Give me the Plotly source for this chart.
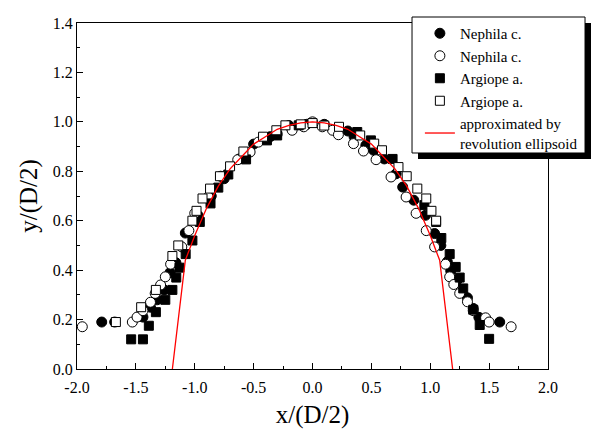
import plotly.graph_objects as go

# Nephila c. (filled circles)
nc_fill_x = [-1.79, -1.68, -1.44, -1.376, -1.32, -1.26, -1.21, -1.16, -1.08, -0.97, -0.86, -0.75, -0.62,
             -0.50, -0.36, -0.20, -0.05, 0.10, 0.30, 0.353, 0.453, 0.519, 0.61, 0.71, 0.766, 0.86, 0.96,
             1.037, 1.09, 1.145, 1.174, 1.23, 1.316, 1.365, 1.413, 1.59]
nc_fill_y = [0.19, 0.19, 0.21, 0.25, 0.28, 0.32, 0.39, 0.43, 0.55, 0.62, 0.70, 0.77, 0.85,
             0.91, 0.94, 0.985, 0.99, 0.99, 0.963, 0.94, 0.905, 0.885, 0.85, 0.79, 0.736, 0.683, 0.622,
             0.548, 0.50, 0.434, 0.397, 0.36, 0.288, 0.245, 0.209, 0.19]

# Nephila c. (open circles)
nc_open_x = [-1.955, -1.53, -1.49, -1.44, -1.376, -1.336, -1.29, -1.25, -1.205, -1.11, -1.05, -1.0,
             -0.886, -0.78, -0.635, -0.53, -0.46, -0.30, -0.173, -0.074, 0.0, 0.083, 0.17, 0.22, 0.348,
             0.433, 0.54, 0.667, 0.795, 0.88, 0.966, 1.037, 1.13, 1.165, 1.2, 1.25, 1.316, 1.365,
             1.47, 1.5, 1.687]
nc_open_y = [0.171, 0.19, 0.21, 0.236, 0.27, 0.306, 0.34, 0.373, 0.424, 0.494, 0.56, 0.63,
             0.696, 0.78, 0.847, 0.878, 0.918, 0.95, 0.966, 0.98, 1.0, 0.98, 0.966, 0.948, 0.912,
             0.882, 0.847, 0.777, 0.696, 0.63, 0.56, 0.494, 0.424, 0.373, 0.342, 0.306, 0.272, 0.236,
             0.207, 0.19, 0.171]

# Argiope a. (filled squares)
aa_fill_x = [-1.54, -1.44, -1.39, -1.33, -1.25, -1.19, -1.157, -1.13, -1.077, -1.02, -0.957, -0.866,
             -0.80, -0.715, -0.564, -0.387, -0.30, -0.117, 0.38, 0.496, 0.68, 0.95, 1.05, 1.094,
             1.165, 1.216, 1.25, 1.28, 1.365, 1.42, 1.5]
aa_fill_y = [0.12, 0.12, 0.175, 0.23, 0.28, 0.32, 0.37, 0.41, 0.465, 0.52, 0.595, 0.67,
             0.734, 0.787, 0.848, 0.925, 0.945, 0.986, 0.959, 0.925, 0.85, 0.663, 0.595, 0.53,
             0.465, 0.413, 0.37, 0.326, 0.24, 0.178, 0.122]

# Argiope a. (open squares)
aa_open_x = [-1.67, -1.455, -1.33, -1.19, -1.14, -1.02, -0.985, -0.934, -0.87, -0.786, -0.70, -0.587,
             -0.42, -0.307, -0.23, -0.10, 0.0, 0.10, 0.225, 0.405, 0.524, 0.59, 0.73, 0.80, 0.89,
             0.966, 1.01, 1.05]
aa_open_y = [0.19, 0.25, 0.32, 0.457, 0.50, 0.60, 0.64, 0.69, 0.73, 0.78, 0.82, 0.88,
             0.94, 0.966, 0.986, 0.99, 0.995, 0.985, 0.98, 0.945, 0.912, 0.885, 0.817, 0.78, 0.73,
             0.69, 0.64, 0.60]

# approximated by revolution ellipsoid
ell_x = [-1.19, -1.08, -1.0, -0.9, -0.8, -0.7, -0.6, -0.5, -0.4, -0.3, -0.2, -0.1, 0.0,
         0.1, 0.2, 0.3, 0.4, 0.5, 0.6, 0.7, 0.8, 0.9, 1.0, 1.08, 1.19]
ell_y = [0.0, 0.44, 0.54, 0.65, 0.74, 0.81, 0.86, 0.91, 0.94, 0.97, 0.986, 0.996, 1.0,
         0.996, 0.986, 0.97, 0.94, 0.91, 0.86, 0.81, 0.74, 0.65, 0.54, 0.44, 0.0]

x_ticks = [-2.0, -1.5, -1.0, -0.5, 0.0, 0.5, 1.0, 1.5, 2.0]
y_ticks = [0.0, 0.2, 0.4, 0.6, 0.8, 1.0, 1.2, 1.4]

FONT = "Liberation Serif"
msz = 9

fig = go.Figure()
fig.add_trace(go.Scatter(x=nc_fill_x, y=nc_fill_y, mode="markers", name="Nephila c.",
                         marker=dict(symbol="circle", size=msz + 1, color="black",
                                     line=dict(color="black", width=1))))
fig.add_trace(go.Scatter(x=nc_open_x, y=nc_open_y, mode="markers", name="Nephila c.",
                         marker=dict(symbol="circle", size=msz + 1, color="white",
                                     line=dict(color="black", width=1))))
fig.add_trace(go.Scatter(x=aa_fill_x, y=aa_fill_y, mode="markers", name="Argiope a.",
                         marker=dict(symbol="square", size=msz, color="black",
                                     line=dict(color="black", width=1))))
fig.add_trace(go.Scatter(x=aa_open_x, y=aa_open_y, mode="markers", name="Argiope a.",
                         marker=dict(symbol="square", size=msz, color="white",
                                     line=dict(color="black", width=1))))
fig.add_trace(go.Scatter(x=ell_x, y=ell_y, mode="lines",
                         name="approximated by<br>revolution ellipsoid",
                         line=dict(color="red", width=1.3)))

axis_common = dict(showgrid=False, zeroline=False, showline=True, linecolor="black", linewidth=1,
                   mirror=True, ticks="inside", ticklen=6, tickcolor="black", tickwidth=1,
                   tickfont=dict(family=FONT, size=16, color="black"))

fig.update_xaxes(range=[-2.0, 2.0], tickvals=x_ticks, ticktext=[f"{v:.1f}" for v in x_ticks],
                 minor=dict(ticks="inside", ticklen=3, dtick=0.25, tickcolor="black"),
                 ticklabelstandoff=4,
                 title=dict(text="x/(D/2)", font=dict(family=FONT, size=25, color="black"), standoff=10),
                 **axis_common)
fig.update_yaxes(range=[0.0, 1.4], tickvals=y_ticks, ticktext=[f"{v:.1f}" for v in y_ticks],
                 minor=dict(ticks="inside", ticklen=3, dtick=0.1, tickcolor="black"),
                 title=dict(text="y/(D/2)", font=dict(family=FONT, size=25, color="black"), standoff=8),
                 **axis_common)

# legend shadow and legend box
fig.add_shape(type="rect", xref="paper", yref="paper", x0=0.724, x1=1.12, y0=0.607, y1=1.0,
              fillcolor="black", line=dict(width=0), layer="above")
fig.add_shape(type="rect", xref="paper", yref="paper", x0=0.7113, x1=1.0786, y0=0.6243, y1=1.0173,
              fillcolor="white", line=dict(color="black", width=1), layer="above")

fig.update_layout(
    width=591, height=429,
    margin=dict(l=77, r=43, t=23, b=60, autoexpand=False),
    paper_bgcolor="white", plot_bgcolor="white",
    font=dict(family=FONT, color="black"),
    legend=dict(x=0.728, y=1.0173, xanchor="left", yanchor="top",
                bgcolor="rgba(0,0,0,0)", borderwidth=0,
                font=dict(family=FONT, size=15, color="black"),
                tracegroupgap=0, itemwidth=30),
    showlegend=True,
)

fig.write_html("out.html",
               post_script=("document.body.style.margin='0';document.body.style.overflow='hidden';"
                            "var st=document.createElement('style');"
                            "st.textContent='.modebar-container{display:none !important;}';"
                            "document.head.appendChild(st);"))
